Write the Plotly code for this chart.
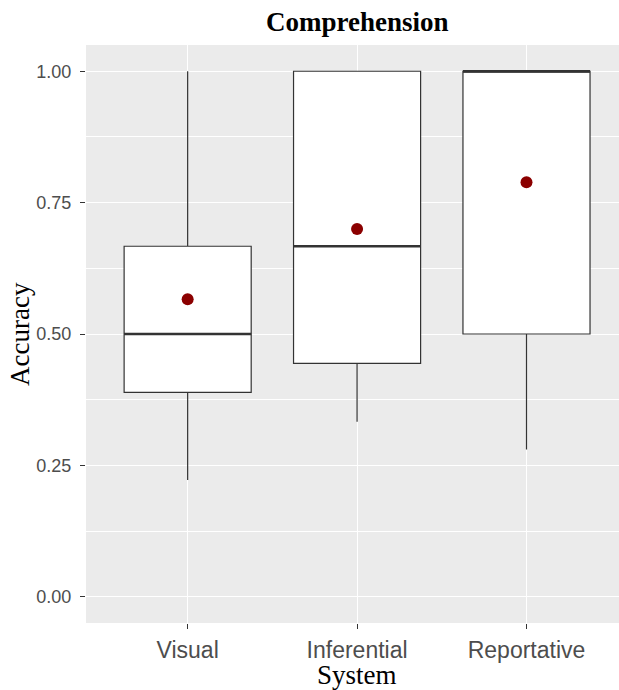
import plotly.graph_objects as go

# Accuracy summary per system
systems = ["Visual", "Inferential", "Reportative"]
positions = [1, 2, 3]
lower_whisker = [0.222, 0.333, 0.28]
q1 = [0.389, 0.444, 0.5]
median = [0.5, 0.667, 1.0]
q3 = [0.667, 1.0, 1.0]
upper_whisker = [1.0, 1.0, 1.0]
mean_acc = [0.566, 0.70, 0.789]

y_ticks = [0.0, 0.25, 0.5, 0.75, 1.0]
y_tick_text = ["0.00", "0.25", "0.50", "0.75", "1.00"]

BOX_W = 0.75
INK = "#333333"

fig = go.Figure()

fig.add_trace(go.Box(
    x=positions,
    q1=q1, median=median, q3=q3,
    lowerfence=lower_whisker, upperfence=upper_whisker,
    width=BOX_W,
    whiskerwidth=0,
    fillcolor="white",
    line=dict(color=INK, width=1.2),
    boxpoints=False,
    showlegend=False,
    hoverinfo="skip",
))

# thicker median bars, as in ggplot boxplots
mx, my = [], []
for p, m in zip(positions, median):
    mx += [p - BOX_W / 2, p + BOX_W / 2, None]
    my += [m, m, None]
fig.add_trace(go.Scatter(
    x=mx, y=my, mode="lines",
    line=dict(color=INK, width=2.6),
    showlegend=False, hoverinfo="skip",
))

# group means
fig.add_trace(go.Scatter(
    x=positions, y=mean_acc, mode="markers",
    marker=dict(color="#8B0000", size=12, line=dict(width=0)),
    showlegend=False,
))

fig.update_layout(
    width=619, height=690,
    margin=dict(l=86, r=0, t=45, b=67),
    paper_bgcolor="white",
    plot_bgcolor="#EBEBEB",
    xaxis=dict(
        range=[0.4, 3.546],
        tickvals=positions, ticktext=systems,
        showgrid=True, gridcolor="white", gridwidth=1.2,
        zeroline=False, showline=False,
        ticks="outside", ticklen=5, tickwidth=1, tickcolor=INK,
        ticklabelstandoff=1,
        tickfont=dict(family="Liberation Sans, Arial", size=23, color="#4D4D4D"),
    ),
    yaxis=dict(
        range=[-0.05, 1.05],
        tickvals=y_ticks, ticktext=y_tick_text,
        showgrid=True, gridcolor="white", gridwidth=1.2,
        zeroline=False, showline=False,
        ticks="outside", ticklen=5, tickwidth=1, tickcolor=INK,
        ticklabelstandoff=5,
        tickfont=dict(family="Liberation Sans, Arial", size=18, color="#4D4D4D"),
        minor=dict(dtick=0.125, tick0=0.125, showgrid=True,
                   gridcolor="white", gridwidth=0.6, ticks=""),
    ),
    annotations=[
        dict(text="<b>Comprehension</b>", x=2, xref="x", y=1, yref="paper",
             yshift=23, yanchor="middle", xanchor="center", showarrow=False,
             font=dict(family="Liberation Serif, Times New Roman", size=27, color="black")),
        dict(text="System", x=2, xref="x", y=0, yref="paper",
             yshift=-52, yanchor="middle", xanchor="center", showarrow=False,
             font=dict(family="Liberation Serif, Times New Roman", size=27, color="black")),
        dict(text="Accuracy", x=0, xref="paper", xshift=-66, y=0.5, yref="paper",
             textangle=-90, xanchor="center", yanchor="middle", showarrow=False,
             font=dict(family="Liberation Serif, Times New Roman", size=27, color="black")),
    ],
)

fig.write_html("out.html")
